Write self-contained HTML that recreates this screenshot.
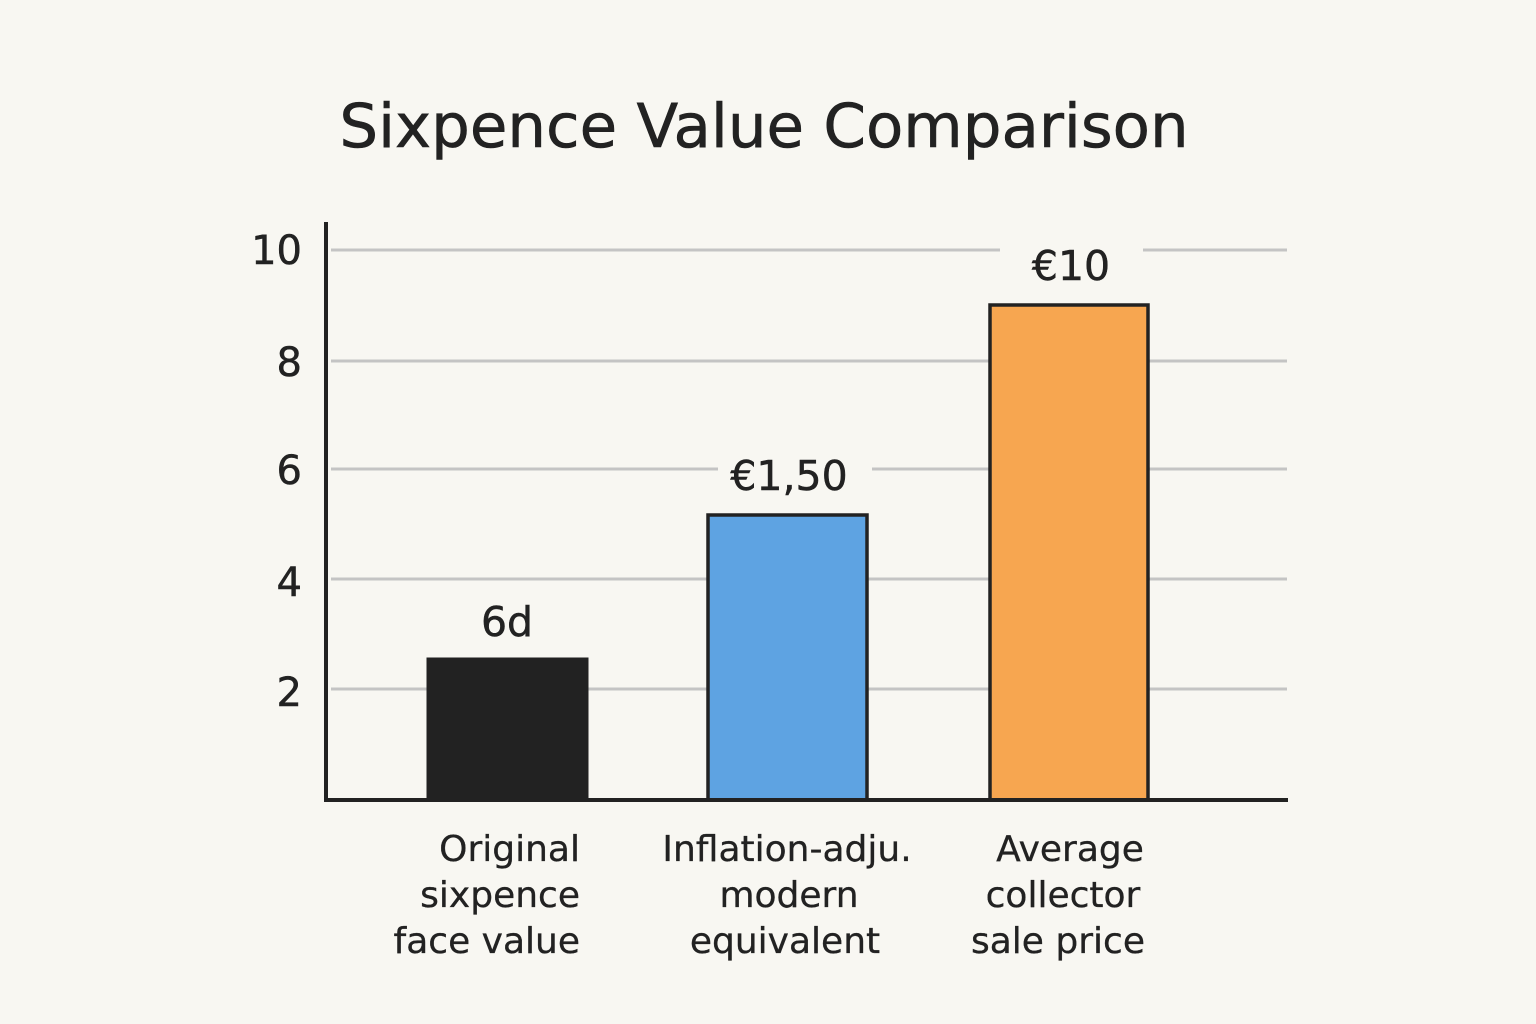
<!DOCTYPE html>
<html><head><meta charset="utf-8"><style>
html,body{margin:0;padding:0;background:#f8f7f2;}
svg{display:block}
text{font-family:"DejaVu Sans","Liberation Sans",sans-serif;fill:#222;}
</style></head><body>
<svg width="1536" height="1024" viewBox="0 0 1536 1024">
<rect width="1536" height="1024" fill="#f8f7f2"/>
<text x="764" y="147" font-size="61" text-anchor="middle" stroke="#222" stroke-width="0.6">Sixpence Value Comparison</text>
<g stroke="#c4c4c4" stroke-width="3">
<line x1="331" y1="250" x2="1000" y2="250"/><line x1="1143" y1="250" x2="1287" y2="250"/>
<line x1="331" y1="361" x2="1287" y2="361"/>
<line x1="331" y1="469" x2="718" y2="469"/><line x1="872" y1="469" x2="1287" y2="469"/>
<line x1="331" y1="579" x2="1287" y2="579"/>
<line x1="331" y1="689" x2="1287" y2="689"/>
</g>
<g font-size="40" text-anchor="end" stroke="#222" stroke-width="0.5">
<text x="302" y="264">10</text><text x="302" y="376">8</text><text x="302" y="484">6</text><text x="302" y="596">4</text><text x="302" y="706">2</text>
</g>
<rect x="428" y="659" width="159" height="141" fill="#222" stroke="#222" stroke-width="3"/>
<rect x="708" y="515" width="159" height="285" fill="#5ea3e2" stroke="#222" stroke-width="3.5"/>
<rect x="990" y="305" width="158" height="495" fill="#f7a650" stroke="#222" stroke-width="3.5"/>
<line x1="326" y1="222" x2="326" y2="801" stroke="#222" stroke-width="4"/>
<line x1="324" y1="800" x2="1288" y2="800" stroke="#222" stroke-width="4"/>
<g font-size="41" text-anchor="middle" stroke="#222" stroke-width="0.5">
<text x="507" y="636">6d</text>
<text x="789" y="490">€1,50</text>
<text x="1071" y="280">€10</text>
</g>
<g font-size="36" text-anchor="end" stroke="#222" stroke-width="0.3">
<text x="580" y="861">Original</text><text x="580" y="907">sixpence</text><text x="580" y="953">face value</text>
</g>
<g font-size="36" text-anchor="middle" stroke="#222" stroke-width="0.3">
<text x="787" y="861">Inflation-adju.</text><text x="789" y="907">modern</text><text x="785" y="953">equivalent</text>
<text x="1070" y="861">Average</text><text x="1063" y="907">collector</text><text x="1058" y="953">sale price</text>
</g>
</svg>
</body></html>
